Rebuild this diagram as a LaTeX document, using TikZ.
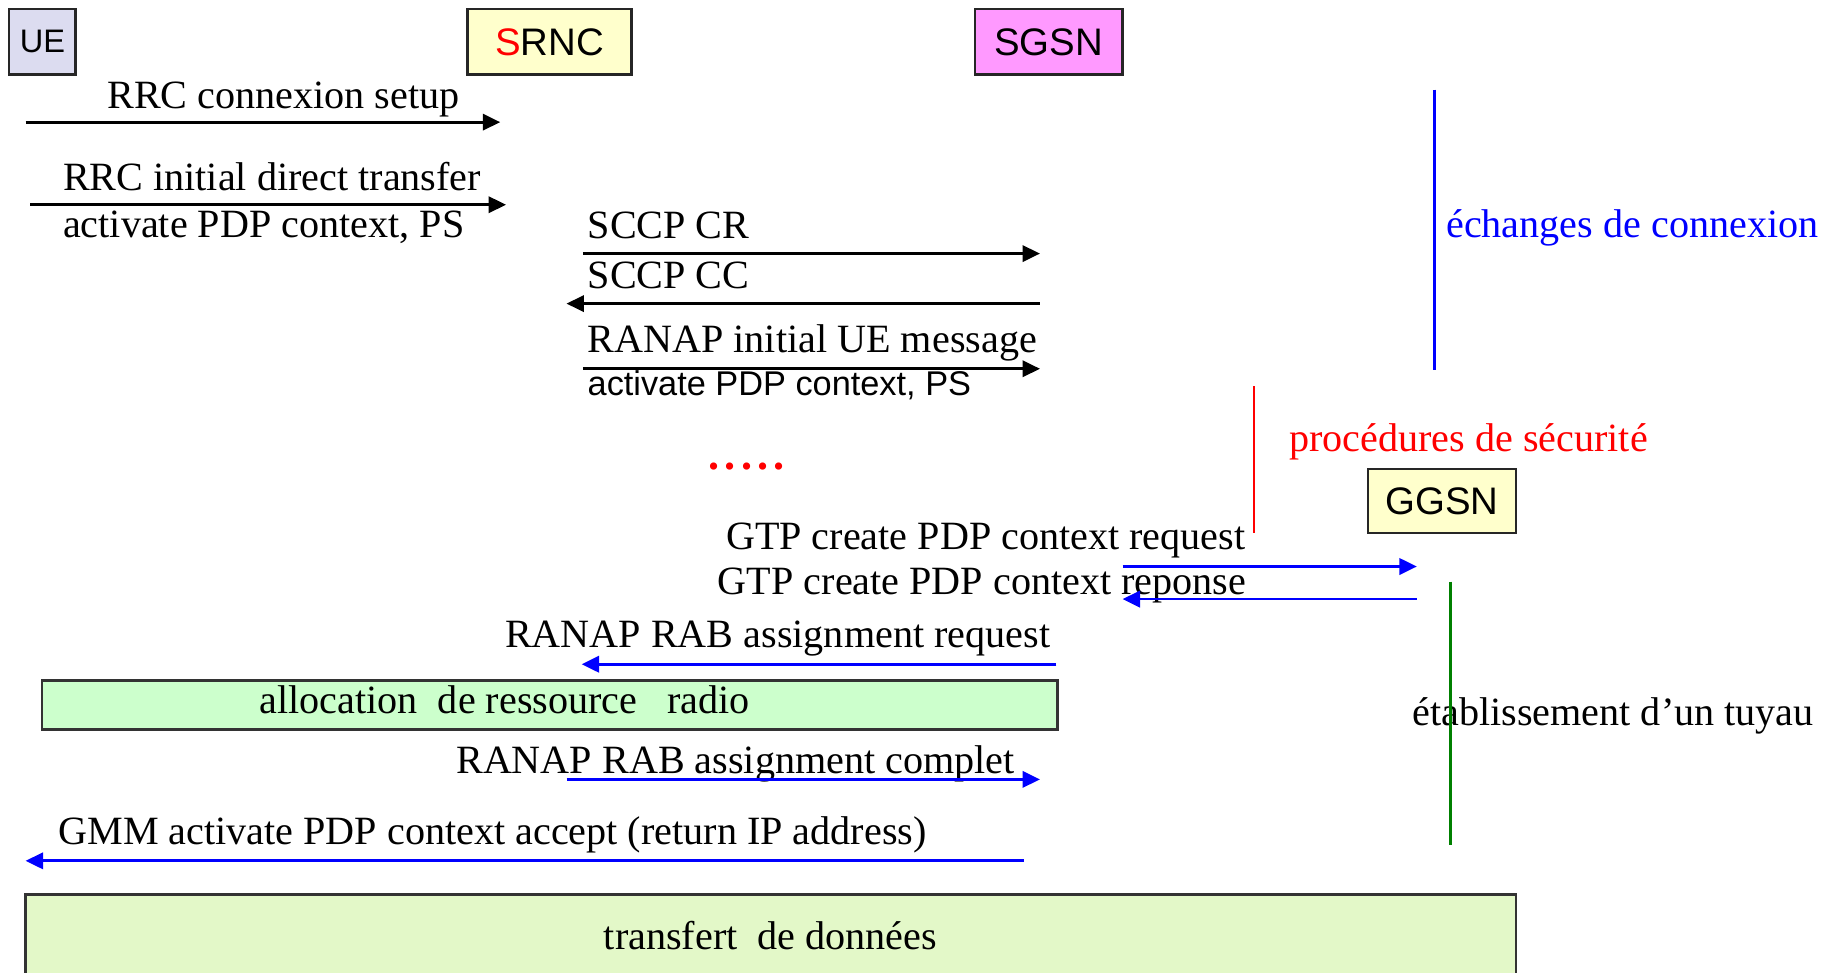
\documentclass[tikz,border=0pt]{standalone}
\usepackage{fontspec}
\setmainfont{Liberation Serif}
\setsansfont{Liberation Sans}
\usetikzlibrary{arrows.meta}
\definecolor{uefill}{RGB}{220,220,240}
\definecolor{rncfill}{RGB}{255,255,204}
\definecolor{sgsnfill}{RGB}{255,153,255}
\definecolor{allocfill}{RGB}{204,255,204}
\definecolor{datafill}{RGB}{227,248,200}
\definecolor{tube}{RGB}{0,128,0}
\begin{document}
\begin{tikzpicture}[x=1pt,y=-1pt,
  ent/.style={draw=black!85, line width=2pt, inner sep=0pt,
    font=\sffamily\fontsize{33}{40}\selectfont},
  band/.style={draw=black!80, line width=2pt},
  msg/.style={line width=2.4pt, -{Triangle[length=15pt,width=14pt]}},
  lbl/.style={font=\fontsize{34.5}{40}\selectfont, inner sep=0pt, anchor=base west},
  slbl/.style={font=\sffamily\fontsize{29.5}{34}\selectfont, inner sep=0pt, anchor=base west},
  phase/.style={line width=2.5pt}]
\useasboundingbox (0,0) rectangle (1568,836);

% network elements
\node[ent, fill=uefill, minimum width=57pt, minimum height=56pt,
  font=\sffamily\fontsize{28}{34}\selectfont] (ue) at (36.5,36) {UE};
\node[ent, fill=rncfill, minimum width=141pt, minimum height=56pt] (srnc) at (472.5,36) {\textcolor{red}{S}RNC};
\node[ent, fill=sgsnfill, minimum width=127pt, minimum height=56pt] (sgsn) at (901.5,36) {SGSN};
\node[ent, fill=rncfill, minimum width=127pt, minimum height=55pt] (ggsn) at (1239.5,430.5) {GGSN};

% message end points
\coordinate (m1a) at (22,105);   \coordinate (m1b) at (430,105);
\coordinate (m2a) at (26,176);   \coordinate (m2b) at (435,176);
\coordinate (m3a) at (501,218);  \coordinate (m3b) at (894,218);
\coordinate (m4a) at (894,261);  \coordinate (m4b) at (487,261);
\coordinate (m5a) at (501,317);  \coordinate (m5b) at (894,317);
\coordinate (m6a) at (965,487);  \coordinate (m6b) at (1218,487);
\coordinate (m7a) at (1218,515); \coordinate (m7b) at (965,515);
\coordinate (m8a) at (908,571);  \coordinate (m8b) at (500,571);
\coordinate (m9a) at (487,670);  \coordinate (m9b) at (894,670);
\coordinate (m10a) at (880,740); \coordinate (m10b) at (22,740);

% radio access set-up (black)
\node[lbl] (t1) at (92,93) {RRC connexion setup};
\draw[msg] (m1a) -- (m1b);
\node[lbl] (t2) at (54,164) {RRC initial direct transfer};
\node[lbl] (t2b) at (54,204) {activate PDP context, PS};
\draw[msg] (m2a) -- (m2b);
\node[lbl] (t3) at (505,205) {SCCP CR};
\draw[msg] (m3a) -- (m3b);
\node[lbl] (t4) at (505,248) {SCCP CC};
\draw[msg] (m4a) -- (m4b);
\node[lbl] (t5) at (505,303) {RANAP initial UE message};
\node[slbl] (t5b) at (505,340) {activate PDP context, PS};
\draw[msg] (m5a) -- (m5b);
\node[lbl, text=red, font=\bfseries\fontsize{38}{40}\selectfont] (dots) at (609,404) {.\kern4.5pt.\kern4.5pt.\kern4.5pt.\kern4.5pt.};

% phases
\coordinate (p1a) at (1233,77);  \coordinate (p1b) at (1233,318);
\draw[phase, blue] (p1a) -- (p1b);
\node[lbl, text=blue] (ph1) at (1243,204) {échanges de connexion};
\coordinate (p2a) at (1078,332); \coordinate (p2b) at (1078,458);
\draw[line width=1.8pt, red] (p2a) -- (p2b);
\node[lbl, text=red] (ph2) at (1108,388) {procédures de sécurité};
\coordinate (p3a) at (1247,500); \coordinate (p3b) at (1247,726);
\node[lbl] (ph3) at (1214,624) {établissement d’un tuyau};
\draw[phase, tube] (p3a) -- (p3b);

% bearer set-up (blue)
\node[lbl] (t6) at (624,472) {GTP create PDP context request};
\draw[msg, blue] (m6a) -- (m6b);
\node[lbl] (t7) at (617,511) {GTP create PDP context reponse};
\draw[msg, blue] (m7a) -- (m7b);
\node[lbl] (t8) at (434,557) {RANAP RAB assignment request};
\draw[msg, blue] (m8a) -- (m8b);

\node[band, fill=allocfill, minimum width=873pt, minimum height=42pt, inner sep=0pt] (alloc) at (472.5,606) {};
\node[lbl] (alloct) at (223,613) {allocation~~de ressource~~~radio};

\node[lbl] (t9) at (392,665) {RANAP RAB assignment complet};
\draw[msg, blue] (m9a) -- (m9b);
\node[lbl] (t10) at (50,726) {GMM activate PDP context accept (return IP address)};
\draw[msg, blue] (m10a) -- (m10b);

\draw[band, fill=datafill] (22,769) rectangle (1303,845);
\node[lbl] (datat) at (519,816) {transfert~~de données};
\end{tikzpicture}
\end{document}
